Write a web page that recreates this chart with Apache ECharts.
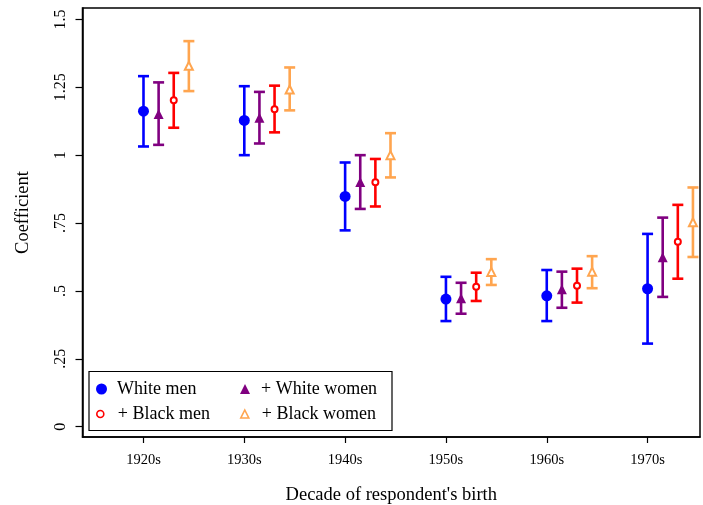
<!DOCTYPE html>
<html>
<head>
<meta charset="utf-8">
<script src="https://cdn.jsdelivr.net/npm/echarts@6/dist/echarts.min.js"></script>
<style>
  html, body { margin: 0; padding: 0; background: #fff; }
  #chart { width: 703px; height: 505px; }
</style>
</head>
<body>
<div id="chart"></div>
<script>
// Cohort labels along the x axis
const decades = ['1920s', '1930s', '1940s', '1950s', '1960s', '1970s'];

// Y axis tick positions and their printed labels
const yTickValues = [0, 0.25, 0.5, 0.75, 1, 1.25, 1.5];
const yTickLabels = ['0', '.25', '.5', '.75', '1', '1.25', '1.5'];

// Point estimates and 95% interval bounds, one entry per decade
const whiteMen      = [1.162, 1.128, 0.848, 0.470, 0.482, 0.508];
const whiteMenLo    = [1.032, 1.000, 0.723, 0.389, 0.389, 0.306];
const whiteMenHi    = [1.291, 1.254, 0.973, 0.552, 0.577, 0.710];

const whiteWomen    = [1.152, 1.138, 0.901, 0.473, 0.506, 0.624];
const whiteWomenLo  = [1.038, 1.043, 0.802, 0.416, 0.438, 0.478];
const whiteWomenHi  = [1.268, 1.233, 1.000, 0.530, 0.571, 0.770];

const blackMen      = [1.202, 1.169, 0.900, 0.515, 0.519, 0.681];
const blackMenLo    = [1.101, 1.084, 0.811, 0.463, 0.457, 0.545];
const blackMenHi    = [1.303, 1.256, 0.986, 0.567, 0.582, 0.817];

const blackWomen    = [1.329, 1.242, 1.000, 0.570, 0.571, 0.753];
const blackWomenLo  = [1.236, 1.165, 0.918, 0.522, 0.510, 0.625];
const blackWomenHi  = [1.420, 1.323, 1.081, 0.617, 0.628, 0.881];

const FONT = 'Liberation Serif';

// Each specification is drawn slightly to the right of the previous one
const specs = [
  { name: 'White men',       est: whiteMen,   lo: whiteMenLo,   hi: whiteMenHi,   offset: 0.00, color: '#0000ff', symbol: 'circle',        size: 11, key: 11 },
  { name: '+ White women',   est: whiteWomen, lo: whiteWomenLo, hi: whiteWomenHi, offset: 0.15, color: '#800080', symbol: 'triangle',      size: 10, key: 10 },
  { name: '+ Black men',     est: blackMen,   lo: blackMenLo,   hi: blackMenHi,   offset: 0.30, color: '#ff0000', symbol: 'emptyCircle',   size: 6,  key: 7 },
  { name: '+ Black women',   est: blackWomen, lo: blackWomenLo, hi: blackWomenHi, offset: 0.45, color: '#ffa54f', symbol: 'emptyTriangle', size: 8,  key: 8 }
];

const series = [];
specs.forEach(function (s) {
  const barData = decades.map(function (d, i) { return [i + s.offset, s.lo[i], s.hi[i]]; });
  series.push({
    type: 'custom',
    name: s.name + ' CI',
    data: barData,
    z: 2,
    silent: true,
    renderItem: function (params, api) {
      const x = api.value(0);
      const top = api.coord([x, api.value(2)]);
      const bot = api.coord([x, api.value(1)]);
      const cap = 5.5;
      const style = { stroke: s.color, lineWidth: 2.6 };
      return {
        type: 'group',
        children: [
          { type: 'line', shape: { x1: top[0], y1: top[1], x2: bot[0], y2: bot[1] }, style: style },
          { type: 'line', shape: { x1: top[0] - cap, y1: top[1], x2: top[0] + cap, y2: top[1] }, style: style },
          { type: 'line', shape: { x1: bot[0] - cap, y1: bot[1], x2: bot[0] + cap, y2: bot[1] }, style: style }
        ]
      };
    }
  });
  series.push({
    type: 'scatter',
    name: s.name,
    data: decades.map(function (d, i) { return [i + s.offset, s.est[i]]; }),
    symbol: s.symbol,
    symbolSize: s.size,
    z: 3,
    itemStyle: s.symbol.indexOf('empty') === 0
      ? { color: s.color, borderColor: s.color, borderWidth: 1.6, opacity: 1 }
      : { color: s.color, opacity: 1 },
    emphasis: { disabled: true }
  });
});

// One legend block per key entry so each marker keeps its own size
const keySlots = [
  { spec: 0, left: 96,  rowCenter: 389 },
  { spec: 2, left: 96,  rowCenter: 414 },
  { spec: 1, left: 240, rowCenter: 389 },
  { spec: 3, left: 240, rowCenter: 414 }
];

const legends = keySlots.map(function (slot) {
  const s = specs[slot.spec];
  const empty = s.symbol.indexOf('empty') === 0;
  const box = 11;
  return {
    orient: 'vertical',
    left: slot.left,
    top: slot.rowCenter - 9,
    z: 10,
    padding: 0,
    itemWidth: s.key,
    itemHeight: s.key,
    selectedMode: false,
    textStyle: {
      fontFamily: FONT, fontSize: 18, color: '#000', lineHeight: 18,
      padding: [0, 0, 0, 5 + (box - s.key)]
    },
    data: [{
      name: s.name,
      icon: empty ? s.symbol.replace('empty', '').toLowerCase() : s.symbol,
      itemStyle: empty
        ? { color: '#ffffff', borderColor: s.color, borderWidth: 1.6, opacity: 1 }
        : { color: s.color, borderWidth: 0, opacity: 1 }
    }]
  };
});

const chart = echarts.init(document.getElementById('chart'), null, { renderer: 'canvas' });
chart.setOption({
  animation: false,
  backgroundColor: '#ffffff',
  grid: {
    left: 82.5, right: 3, top: 8, bottom: 68,
    outerBoundsMode: 'none',
    containLabel: false,
    show: true, borderColor: '#000', borderWidth: 1.5, backgroundColor: 'transparent'
  },
  xAxis: {
    type: 'value',
    min: -0.605,
    max: 5.52,
    name: 'Decade of respondent\'s birth',
    nameLocation: 'middle',
    nameGap: 49,
    nameTextStyle: { fontFamily: FONT, fontSize: 18.5, color: '#000' },
    axisLine: { show: true, onZero: false, lineStyle: { color: '#000', width: 1.5 } },
    splitLine: { show: false },
    axisTick: { show: true, length: 6, lineStyle: { color: '#000', width: 1.2 }, customValues: decades.map(function (d, i) { return i; }) },
    axisLabel: {
      fontFamily: FONT, fontSize: 14.5, color: '#000', margin: 16,
      customValues: decades.map(function (d, i) { return i; }),
      formatter: function (v) { return decades[Math.round(v)]; }
    }
  },
  yAxis: {
    type: 'value',
    min: -0.038,
    max: 1.542,
    name: 'Coefficient',
    nameLocation: 'middle',
    nameGap: 50,
    nameRotate: 90,
    nameTextStyle: { fontFamily: FONT, fontSize: 18.5, color: '#000', padding: [0, 0, 0, 20] },
    axisLine: { show: true, onZero: false, lineStyle: { color: '#000', width: 1.5 } },
    splitLine: { show: false },
    axisTick: { show: true, length: 7, lineStyle: { color: '#000', width: 1.2 }, customValues: yTickValues },
    axisLabel: {
      fontFamily: FONT, fontSize: 16, color: '#000', margin: 14, rotate: 90,
      customValues: yTickValues,
      formatter: function (v) {
        const k = yTickValues.findIndex(function (t) { return Math.abs(t - v) < 1e-6; });
        return k >= 0 ? yTickLabels[k] : '';
      }
    }
  },
  legend: legends,
  graphic: [
    {
      type: 'rect',
      shape: { x: 89, y: 371.5, width: 303, height: 59 },
      style: { fill: '#fff', stroke: '#000', lineWidth: 1.2 },
      z: 5
    }
  ],
  series: series
});
</script>
</body>
</html>
